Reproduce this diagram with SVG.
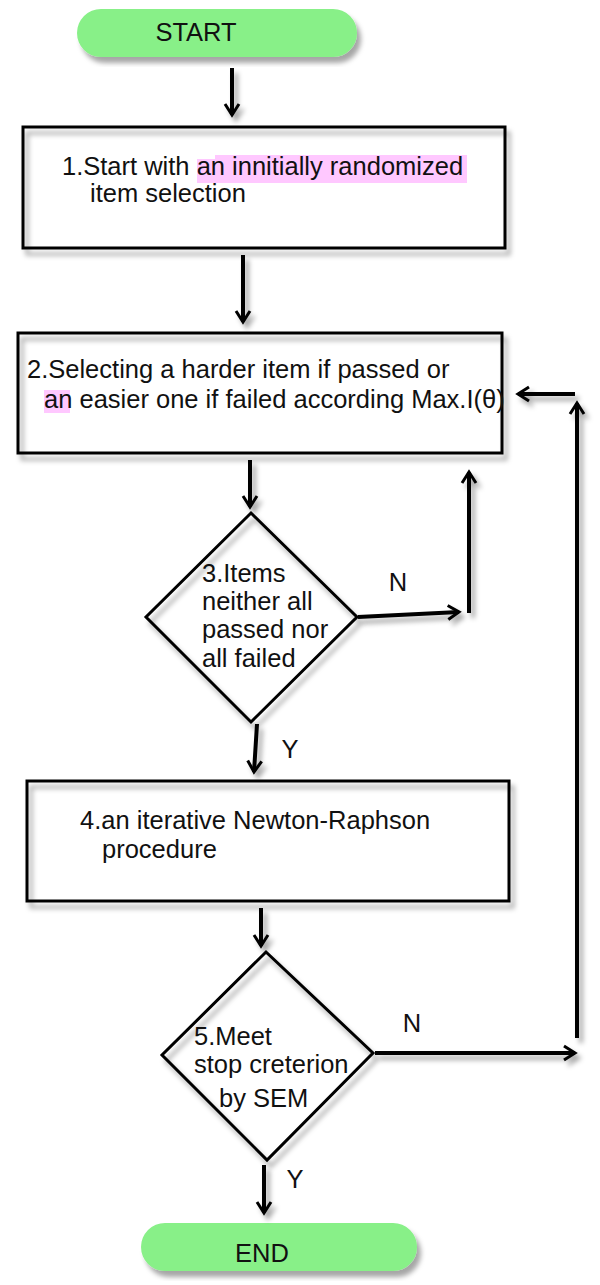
<svg xmlns="http://www.w3.org/2000/svg" width="600" height="1285" viewBox="0 0 600 1285">
<defs>
<filter id="sh" x="-20%" y="-20%" width="140%" height="140%">
<feDropShadow dx="4" dy="6" stdDeviation="2.5" flood-color="#000" flood-opacity="0.35"/>
</filter>
<filter id="shl" x="-50%" y="-10%" width="200%" height="120%" filterUnits="userSpaceOnUse">
<feDropShadow dx="4" dy="5" stdDeviation="2.5" flood-color="#000" flood-opacity="0.35"/>
</filter>
<marker id="ah" markerUnits="userSpaceOnUse" markerWidth="24" markerHeight="24" refX="16" refY="12" orient="auto">
<path d="M5,5 L16,12 L5,19" fill="none" stroke="#000" stroke-width="3"/>
</marker>
<style>
.t{font-family:"Liberation Sans",Arial,sans-serif;font-size:25.5px;fill:#111;}
.box{fill:none;stroke:#000;stroke-width:3;}
.bg{fill:#fff;}
.pill{fill:#88f088;}
.hl{fill:#ffc8ff;}
.c{fill:none;stroke:#000;stroke-width:4;}
</style>
</defs>
<rect width="600" height="1285" fill="#fff"/>

<g id="start">
<rect class="pill" x="77" y="9" width="280" height="48" rx="24" filter="url(#sh)"/>
<text class="t" x="196" y="41" text-anchor="middle">START</text>
</g>

<g id="step1">
<rect class="bg" x="23" y="127" width="482" height="121"/>
<rect class="box" x="23" y="127" width="482" height="121" filter="url(#sh)"/>
<rect class="hl" x="197" y="159" width="18" height="24"/>
<rect class="hl" x="215" y="155" width="252" height="28"/>
<text class="t" x="62" y="175">1.Start with an innitially randomized</text>
<text class="t" x="90" y="202">item selection</text>
</g>

<g id="step2">
<rect class="bg" x="18" y="333" width="484" height="120"/>
<rect class="box" x="18" y="333" width="484" height="120" filter="url(#sh)"/>
<rect class="hl" x="44" y="390" width="26" height="23"/>
<text class="t" x="27" y="378">2.Selecting a harder item if passed or</text>
<text class="t" x="44" y="408">an easier one if failed according Max.I(θ)</text>
</g>

<g id="step3">
<polygon class="bg" points="251,513 357,617 251,722 146,617"/>
<polygon class="box" points="251,513 357,617 251,722 146,617" filter="url(#sh)"/>
<text class="t" x="202" y="582">3.Items</text>
<text class="t" x="202" y="610">neither all</text>
<text class="t" x="202" y="638">passed nor</text>
<text class="t" x="202" y="667">all failed</text>
</g>

<g id="step4">
<rect class="bg" x="27" y="781" width="482" height="120"/>
<rect class="box" x="27" y="781" width="482" height="120" filter="url(#sh)"/>
<text class="t" x="80" y="829">4.an iterative Newton-Raphson</text>
<text class="t" x="102" y="858">procedure</text>
</g>

<g id="step5">
<polygon class="bg" points="266,952 373,1053 267,1160 162,1055"/>
<polygon class="box" points="266,952 373,1053 267,1160 162,1055" filter="url(#sh)"/>
<text class="t" x="194" y="1045">5.Meet</text>
<text class="t" x="194" y="1073">stop creterion</text>
<text class="t" x="219" y="1107">by SEM</text>
</g>

<g id="end">
<rect class="pill" x="141" y="1223" width="276" height="48" rx="24" filter="url(#sh)"/>
<text class="t" x="262" y="1262" text-anchor="middle">END</text>
</g>

<g id="connectors" filter="url(#shl)">
<path class="c" d="M232,68 L232,115" marker-end="url(#ah)"/>
<path class="c" d="M243,255 L243,322" marker-end="url(#ah)"/>
<path class="c" d="M250,460 L250,507" marker-end="url(#ah)"/>
<path class="c" d="M358,617 L459,612" marker-end="url(#ah)"/>
<path class="c" d="M469,613 L469,472" marker-end="url(#ah)"/>
<path class="c" d="M257,724 L254,772" marker-end="url(#ah)"/>
<path class="c" d="M261,908 L261,946" marker-end="url(#ah)"/>
<path class="c" d="M375,1053 L575,1053" marker-end="url(#ah)"/>
<path class="c" d="M577,1038 L577,403" marker-end="url(#ah)"/>
<path class="c" d="M575,394 L518,394" marker-end="url(#ah)"/>
<path class="c" d="M264,1165 L264,1213" marker-end="url(#ah)"/>
</g>

<g id="labels">
<text class="t" x="398" y="591" text-anchor="middle">N</text>
<text class="t" x="290" y="758" text-anchor="middle">Y</text>
<text class="t" x="412" y="1032" text-anchor="middle">N</text>
<text class="t" x="295" y="1188" text-anchor="middle">Y</text>
</g>
</svg>
